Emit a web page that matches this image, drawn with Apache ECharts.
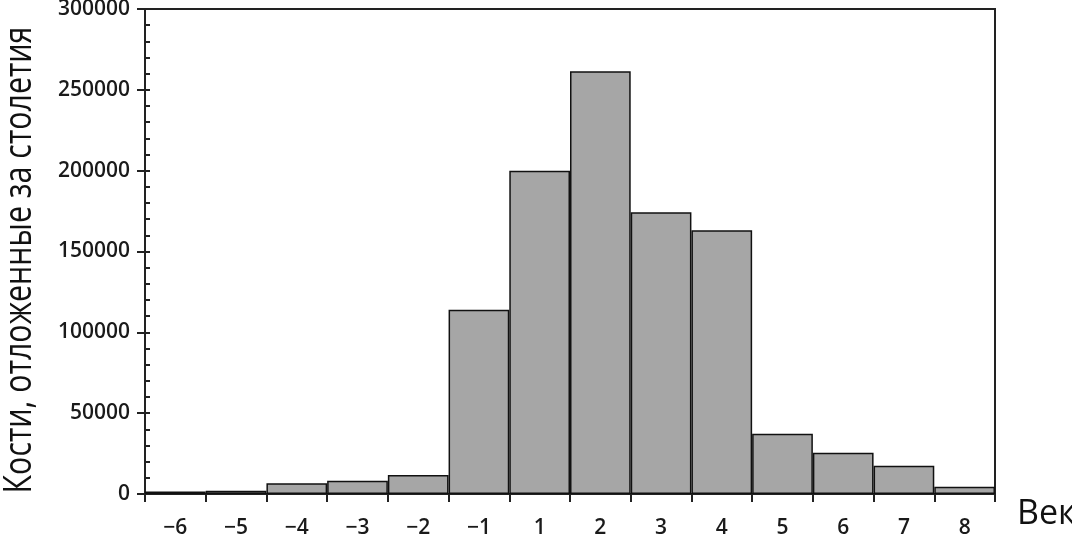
<!DOCTYPE html>
<html><head><meta charset="utf-8">
<script src="https://cdn.jsdelivr.net/npm/echarts@6/dist/echarts.min.js"></script>
<style>html,body{margin:0;padding:0;background:#fff}#c{width:1072px;height:536px}</style>
</head><body><div id="c"></div>
<script>
const categories = ['\u22126','\u22125','\u22124','\u22123','\u22122','\u22121','1','2','3','4','5','6','7','8'];
const bones = [1500, 2000, 6600, 8200, 11700, 114000, 200000, 261500, 174300, 163200, 37300, 25500, 17500, 4500];
const yTicks = [0, 50000, 100000, 150000, 200000, 250000, 300000];
const yTitle = 'Кости, отложенные за столетия';
const xTitle = 'Век';

const chart = echarts.init(document.getElementById('c'), null, {renderer:'canvas'});
const font = '"Open Sans", "Noto Sans", sans-serif';
chart.setOption({
  animation:false,
  grid:{left:145,right:77,top:9,bottom:42,show:true,borderColor:'#222',borderWidth:2,backgroundColor:'transparent',outerBoundsMode:'none',containLabel:false},
  xAxis:{type:'category',data:categories,boundaryGap:true,
    axisLine:{lineStyle:{color:'#222',width:2}},
    axisTick:{show:true,length:8,lineStyle:{color:'#222',width:2}},
    axisLabel:{color:'#1a1a1a',fontSize:21,fontFamily:font,fontWeight:600,margin:24},
    splitLine:{show:false}},
  yAxis:[{type:'value',min:yTicks[0],max:yTicks[yTicks.length-1],interval:50000,
    axisLine:{show:true,lineStyle:{color:'#222',width:2}},
    axisTick:{show:true,length:8,lineStyle:{color:'#222',width:2}},
    axisLabel:{color:'#1a1a1a',fontSize:21,fontFamily:font,fontWeight:600,margin:15,formatter:v=>String(v)},
    splitLine:{show:false}},
   {type:'value',position:'left',min:0,max:300000,interval:50000,
    axisLine:{show:false},
    axisTick:{show:true,inside:true,length:5,lineStyle:{color:'#222',width:2}},
    minorTick:{show:true,splitNumber:5,length:5,lineStyle:{color:'#222',width:2}},
    axisLabel:{show:false},splitLine:{show:false}}],
  series:[{type:'bar',data:bones,barCategoryGap:'0%',
    itemStyle:{color:'#a6a6a6',borderColor:'#111',borderWidth:1.5}}],
  graphic:[
    {type:'text',x:20,y:260,rotation:Math.PI/2,scaleX:0.8,
     style:{text:yTitle,fontSize:38,fontFamily:font,fill:'#111',align:'center',verticalAlign:'middle'}},
    {type:'text',left:1017,top:497,style:{text:xTitle,fontSize:34,fontFamily:font,fill:'#111'}}]
});
</script></body></html>
